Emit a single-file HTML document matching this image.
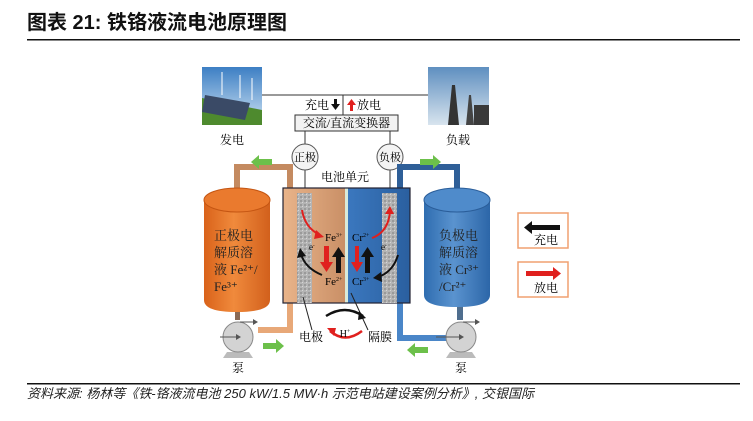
<!DOCTYPE html>
<html><head><meta charset="utf-8"><style>
html,body{margin:0;padding:0;background:#fff;}
svg{display:block;}
text{font-family:"Liberation Serif","Noto Serif CJK SC",serif;}
</style></head><body>
<svg width="753" height="421" viewBox="0 0 753 421" xmlns="http://www.w3.org/2000/svg">
<defs>
<linearGradient id="og" x1="0" x2="1"><stop offset="0" stop-color="#d9621a"/><stop offset="0.45" stop-color="#f08a3c"/><stop offset="1" stop-color="#d2601c"/></linearGradient>
<linearGradient id="bg" x1="0" x2="1"><stop offset="0" stop-color="#2f6db0"/><stop offset="0.45" stop-color="#5a93cf"/><stop offset="1" stop-color="#2c66a8"/></linearGradient>
<linearGradient id="lc" x1="0" x2="1"><stop offset="0" stop-color="#e9b48a"/><stop offset="1" stop-color="#c98f66"/></linearGradient>
<linearGradient id="rc" x1="0" x2="1"><stop offset="0" stop-color="#3b78bf"/><stop offset="1" stop-color="#2a5f9f"/></linearGradient>
<linearGradient id="sky" x1="0" y1="0" x2="0" y2="1"><stop offset="0" stop-color="#3d7fc4"/><stop offset="1" stop-color="#cfe3f3"/></linearGradient>
<linearGradient id="sky2" x1="0" y1="0" x2="0" y2="1"><stop offset="0" stop-color="#5f8fc0"/><stop offset="1" stop-color="#d8e4ee"/></linearGradient>
<pattern id="gr" width="4" height="4" patternUnits="userSpaceOnUse"><rect width="4" height="4" fill="#b4b4b4"/><rect width="2" height="2" fill="#9a9a9a"/><rect x="2" y="2" width="1" height="1" fill="#d6d6d6"/></pattern>
</defs>

<text x="27" y="29" font-weight="bold" font-size="20" fill="#111" style="font-family:'Liberation Sans','Noto Sans CJK SC',sans-serif">图表 21: 铁铬液流电池原理图</text>
<rect x="27" y="39" width="713" height="1.5" fill="#111"/>

<rect x="202" y="67" width="60" height="58" fill="url(#sky)"/>
<polygon points="202,98 262,110 262,125 202,125" fill="#4e8a2e"/>
<polygon points="205,95 250,103 245,120 202,112" fill="#3a4a66"/>
<line x1="222" y1="72" x2="222" y2="95" stroke="#fff" stroke-width="1"/>
<line x1="240" y1="75" x2="240" y2="98" stroke="#fff" stroke-width="1"/>
<line x1="252" y1="78" x2="252" y2="100" stroke="#fff" stroke-width="1"/>
<text x="232" y="144" font-size="12" text-anchor="middle">发电</text>

<rect x="428" y="67" width="61" height="58" fill="url(#sky2)"/>
<polygon points="448,125 452,85 455,85 459,125" fill="#333"/>
<polygon points="466,125 469,95 471,95 474,125" fill="#444"/>
<rect x="474" y="105" width="15" height="20" fill="#3a3a3a"/>
<text x="458" y="144" font-size="12" text-anchor="middle">负载</text>

<line x1="262" y1="95" x2="428" y2="95" stroke="#333" stroke-width="1"/>
<line x1="343" y1="95" x2="343" y2="115" stroke="#333" stroke-width="1"/>
<text x="305" y="109" font-size="12">充电</text>
<rect x="334" y="99" width="3" height="6" fill="#111"/><polygon points="331,104 340,104 335.5,110" fill="#111"/>
<rect x="350" y="104" width="3" height="7" fill="#e0201e"/><polygon points="347,105 356,105 351.5,99" fill="#e0201e"/>
<text x="357" y="109" font-size="12">放电</text>
<rect x="295" y="115" width="103" height="16" fill="#f2f2f2" stroke="#333" stroke-width="1"/>
<text x="346.5" y="127" font-size="12" text-anchor="middle">交流/直流变换器</text>
<line x1="305" y1="131" x2="305" y2="193" stroke="#333"/>
<line x1="390" y1="131" x2="390" y2="193" stroke="#333"/>
<circle cx="305" cy="157" r="13" fill="#f4f4f4" stroke="#555"/>
<text x="305" y="161" font-size="11" text-anchor="middle">正极</text>
<circle cx="390" cy="157" r="13" fill="#f4f4f4" stroke="#555"/>
<text x="390" y="161" font-size="11" text-anchor="middle">负极</text>
<text x="345" y="181" font-size="12" text-anchor="middle">电池单元</text>

<path d="M237 190 V167 H290 V190" fill="none" stroke="#c48a60" stroke-width="6"/>
<path d="M290 300 V330 H258" fill="none" stroke="#e8a878" stroke-width="6"/>
<rect x="235" y="300" width="5" height="20" fill="#8a6a55"/>
<path d="M400 190 V167 H457 V190" fill="none" stroke="#2f5f98" stroke-width="6"/>
<path d="M400 300 V338 H447" fill="none" stroke="#4a86c8" stroke-width="6"/>
<rect x="457" y="300" width="6" height="20" fill="#4f6e8e"/>

<rect x="258" y="159" width="14" height="6" fill="#6cc04a"/><polygon points="259,155 259,169 251,162" fill="#6cc04a"/>
<rect x="420" y="159" width="14" height="6" fill="#6cc04a"/><polygon points="433,155 433,169 441,162" fill="#6cc04a"/>
<rect x="263" y="343" width="14" height="6" fill="#6cc04a"/><polygon points="276,339 276,353 284,346" fill="#6cc04a"/>
<rect x="414" y="347" width="14" height="6" fill="#6cc04a"/><polygon points="415,343 415,357 407,350" fill="#6cc04a"/>

<path d="M204 200 V300 Q204 312 237 312 Q270 312 270 300 V200 Z" fill="url(#og)"/>
<ellipse cx="237" cy="200" rx="33" ry="12" fill="#ea7a2e" stroke="#c45512"/>
<text font-size="13" fill="#222"><tspan x="214" y="240">正极电</tspan><tspan x="214" y="257">解质溶</tspan><tspan x="214" y="274">液 Fe²⁺/</tspan><tspan x="214" y="291">Fe³⁺</tspan></text>
<path d="M424 200 V295 Q424 307 457 307 Q490 307 490 295 V200 Z" fill="url(#bg)"/>
<ellipse cx="457" cy="200" rx="33" ry="12" fill="#4f8bcb" stroke="#2a5d99"/>
<text font-size="13" fill="#222"><tspan x="439" y="240">负极电</tspan><tspan x="439" y="257">解质溶</tspan><tspan x="439" y="274">液 Cr³⁺</tspan><tspan x="439" y="291">/Cr²⁺</tspan></text>

<rect x="283" y="188" width="63" height="115" fill="url(#lc)"/>
<rect x="347" y="188" width="63" height="115" fill="url(#rc)"/>
<rect x="345" y="188" width="3" height="115" fill="#d8eadb"/>
<rect x="283" y="188" width="127" height="115" fill="none" stroke="#223" stroke-width="1.2"/>
<rect x="297" y="193" width="15" height="110" fill="url(#gr)"/>
<rect x="382" y="193" width="15" height="110" fill="url(#gr)"/>
<text x="325" y="241" font-size="11">Fe<tspan font-size="6" dy="-4">3+</tspan></text>
<text x="325" y="285" font-size="11">Fe<tspan font-size="6" dy="-4">2+</tspan></text>
<text x="352" y="241" font-size="11">Cr<tspan font-size="6" dy="-4">2+</tspan></text>
<text x="352" y="285" font-size="11">Cr<tspan font-size="6" dy="-4">3+</tspan></text>
<text x="309" y="250" font-size="9">e<tspan font-size="5" dy="-3">-</tspan></text>
<text x="381" y="250" font-size="9">e<tspan font-size="5" dy="-3">-</tspan></text>
<rect x="324" y="246" width="5" height="17" fill="#e0201e"/><polygon points="320,262 333,262 326.5,272" fill="#e0201e"/>
<rect x="336" y="256" width="5" height="17" fill="#111"/><polygon points="332,257 345,257 338.5,247" fill="#111"/>
<rect x="355" y="246" width="4" height="17" fill="#e0201e"/><polygon points="351,262 363,262 357,272" fill="#e0201e"/>
<rect x="365" y="256" width="5" height="17" fill="#111"/><polygon points="361,257 374,257 367.5,247" fill="#111"/>
<path d="M302 210 Q305 228 320 235" fill="none" stroke="#e0201e" stroke-width="2"/><polygon points="316,230 324,237 314,239" fill="#e0201e"/>
<path d="M372 238 Q388 232 390 212" fill="none" stroke="#e0201e" stroke-width="2"/><polygon points="385,214 390,206 394,214" fill="#e0201e"/>
<path d="M322 275 Q305 268 301 254" fill="none" stroke="#111" stroke-width="2"/><polygon points="297,258 300,248 306,256" fill="#111"/>
<path d="M398 255 Q393 272 378 277" fill="none" stroke="#111" stroke-width="2"/><polygon points="381,272 373,278 382,282" fill="#111"/>
<line x1="312" y1="330" x2="303" y2="297" stroke="#222"/>
<line x1="368" y1="330" x2="351" y2="293" stroke="#222"/>
<path d="M326 316 Q345 304 363 316" fill="none" stroke="#111" stroke-width="2.5"/><polygon points="359,311 366,318 358,320" fill="#111"/>
<path d="M330 331 Q345 344 362 331" fill="none" stroke="#e0201e" stroke-width="2.5"/><polygon points="334,336 327,328 336,328" fill="#e0201e"/>
<text x="345" y="337" font-size="10" text-anchor="middle">H<tspan font-size="6" dy="-4">+</tspan></text>
<text x="299" y="341" font-size="12">电极</text>
<text x="368" y="341" font-size="12">隔膜</text>

<path d="M227 352 L223 358 H253 L249 352 Z" fill="#bbb"/>
<circle cx="238" cy="337" r="15" fill="#d3d3d3" stroke="#888"/>
<line x1="220" y1="337" x2="238" y2="337" stroke="#555"/><polygon points="236,334 241,337 236,340" fill="#555"/>
<line x1="240" y1="322" x2="255" y2="322" stroke="#555"/><polygon points="253,319 258,322 253,325" fill="#555"/>
<text x="238" y="372" font-size="12" text-anchor="middle">泵</text>
<path d="M450 352 L446 358 H476 L472 352 Z" fill="#bbb"/>
<circle cx="461" cy="337" r="15" fill="#d3d3d3" stroke="#888"/>
<line x1="436" y1="337" x2="461" y2="337" stroke="#555"/><polygon points="459,334 464,337 459,340" fill="#555"/>
<line x1="463" y1="322" x2="477" y2="322" stroke="#555"/><polygon points="475,319 480,322 475,325" fill="#555"/>
<text x="461" y="372" font-size="12" text-anchor="middle">泵</text>

<rect x="518" y="213" width="50" height="35" fill="#fff" stroke="#f0a070" stroke-width="1.5"/>
<rect x="531" y="225" width="29" height="5" fill="#111"/><polygon points="532,221 532,234 524,227.5" fill="#111"/>
<text x="546" y="244" font-size="12" text-anchor="middle">充电</text>
<rect x="518" y="262" width="50" height="35" fill="#fff" stroke="#f0a070" stroke-width="1.5"/>
<rect x="526" y="271" width="28" height="5" fill="#e0201e"/><polygon points="553,267 553,280 561,273.5" fill="#e0201e"/>
<text x="546" y="292" font-size="12" text-anchor="middle">放电</text>

<rect x="27" y="383" width="713" height="1.5" fill="#111"/>
<text x="27" y="398" font-size="13" font-style="italic" fill="#222" style="font-family:'Liberation Sans','Noto Sans CJK SC',sans-serif">资料来源: 杨林等《铁-铬液流电池 250 kW/1.5 MW·h 示范电站建设案例分析》, 交银国际</text>
</svg>
</body></html>
